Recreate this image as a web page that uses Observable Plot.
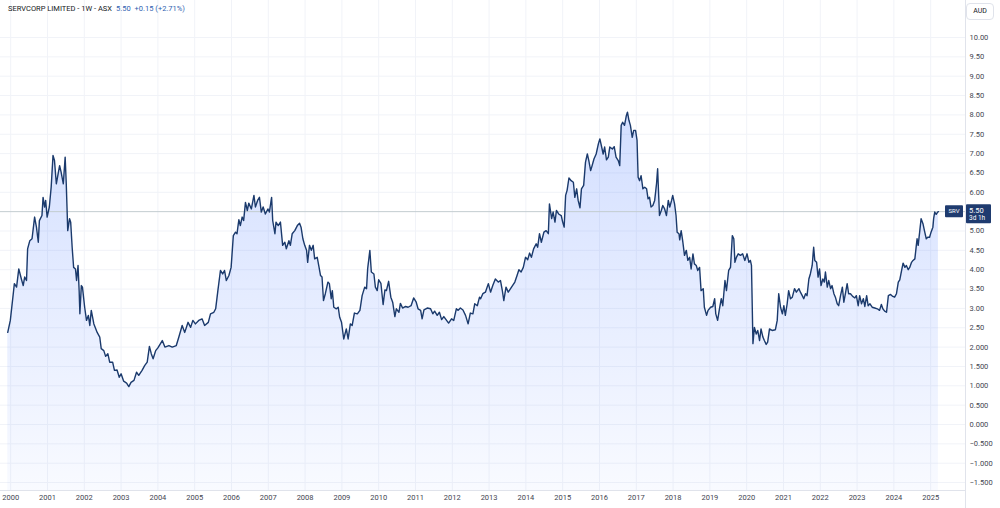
<!DOCTYPE html>
<html><head><meta charset="utf-8">
<script src="https://cdn.jsdelivr.net/npm/d3@7"></script>
<script src="https://cdn.jsdelivr.net/npm/@observablehq/plot@0.6"></script>
<style>
body{margin:0;background:#fff;font-family:Roboto,"Noto Sans",sans-serif;}
#wrap{position:relative;width:1000px;height:508px;overflow:hidden;background:#fff;}
#hdr{position:absolute;left:8px;top:4px;font-size:7.5px;color:#131722;white-space:nowrap;}
#hdr .q{color:#2f5fb0;margin-left:4px;}
#aud{position:absolute;left:966px;top:3px;width:26px;height:15px;border:1px solid #e0e3eb;border-radius:4px;background:#fff;font-size:7px;color:#131722;text-align:center;line-height:15px;}
</style></head><body>
<div id="wrap"><div id="chart"></div>
<div id="hdr">SERVCORP LIMITED - 1W - ASX<span class="q">5.50</span><span class="q">+0.15 (+2.71%)</span></div>
<div id="aud">AUD</div></div>
<script>
const dates = [1999.92,1999.99,2000.07,2000.10,2000.16,2000.22,2000.29,2000.34,2000.38,2000.43,2000.46,2000.52,2000.58,2000.65,2000.70,2000.75,2000.78,2000.85,2000.88,2000.92,2000.95,2000.99,
2001.05,2001.10,2001.15,2001.19,2001.24,2001.29,2001.33,2001.37,2001.43,2001.48,2001.51,2001.55,2001.60,2001.63,2001.67,2001.71,2001.76,2001.79,2001.83,2001.86,2001.88,2001.92,2001.95,
2002.01,2002.06,2002.11,2002.15,2002.19,2002.26,2002.35,2002.42,2002.46,2002.53,2002.58,2002.64,2002.69,2002.77,2002.82,2002.89,2002.95,
2003.00,2003.07,2003.15,2003.21,2003.27,2003.35,2003.42,2003.48,2003.57,2003.64,2003.71,2003.77,2003.82,2003.87,2003.94,
2004.00,2004.12,2004.19,2004.30,2004.39,2004.50,2004.57,2004.66,2004.73,2004.82,2004.89,2004.95,
2005.02,2005.11,2005.20,2005.27,2005.37,2005.43,2005.52,2005.57,2005.63,2005.70,2005.76,2005.81,2005.86,2005.93,2005.99,
2006.05,2006.11,2006.15,2006.20,2006.24,2006.29,2006.33,2006.38,2006.43,2006.47,2006.54,2006.61,2006.65,2006.71,2006.76,2006.81,2006.86,2006.92,2006.99,
2007.03,2007.09,2007.12,2007.18,2007.21,2007.27,2007.33,2007.39,2007.45,2007.49,2007.56,2007.60,2007.65,2007.72,2007.79,2007.85,2007.89,2007.94,2007.99,
2008.04,2008.07,2008.12,2008.17,2008.22,2008.26,2008.33,2008.37,2008.42,2008.46,2008.50,2008.55,2008.62,2008.66,2008.71,2008.74,2008.78,2008.85,2008.90,2008.94,2008.99,
2009.05,2009.12,2009.17,2009.23,2009.28,2009.34,2009.42,2009.49,2009.55,2009.62,2009.67,2009.70,2009.76,2009.80,2009.87,2009.91,2009.96,
2010.00,2010.06,2010.12,2010.17,2010.21,2010.27,2010.33,2010.38,2010.44,2010.48,2010.55,2010.59,2010.65,2010.73,2010.80,2010.88,2010.95,
2011.02,2011.07,2011.14,2011.18,2011.23,2011.32,2011.41,2011.47,2011.52,2011.59,2011.65,2011.71,2011.77,2011.83,2011.90,2011.98,
2012.04,2012.11,2012.16,2012.22,2012.29,2012.36,2012.43,2012.49,2012.56,2012.61,2012.68,2012.74,2012.77,2012.83,2012.90,2012.98,
2013.04,2013.10,2013.17,2013.25,2013.31,2013.36,2013.40,2013.46,2013.52,2013.61,2013.70,2013.76,2013.81,2013.87,2013.93,2013.99,
2014.05,2014.10,2014.15,2014.21,2014.28,2014.32,2014.37,2014.42,2014.49,2014.55,2014.61,2014.64,2014.70,2014.74,2014.79,2014.83,2014.89,2014.96,
2015.00,2015.04,2015.08,2015.12,2015.17,2015.23,2015.29,2015.33,2015.38,2015.42,2015.47,2015.51,2015.57,2015.62,2015.67,2015.71,2015.76,2015.80,2015.85,2015.91,2015.97,
2016.01,2016.05,2016.10,2016.14,2016.19,2016.24,2016.28,2016.35,2016.40,2016.45,2016.51,2016.55,2016.59,2016.63,2016.68,2016.73,2016.76,2016.80,2016.84,2016.89,2016.93,2016.98,
2017.02,2017.05,2017.09,2017.13,2017.18,2017.23,2017.28,2017.32,2017.36,2017.40,2017.45,2017.50,2017.55,2017.58,2017.61,2017.63,2017.68,2017.72,2017.77,2017.82,2017.87,2017.91,2017.96,2017.99,
2018.04,2018.08,2018.11,2018.16,2018.18,2018.22,2018.26,2018.31,2018.36,2018.40,2018.45,2018.49,2018.54,2018.58,2018.63,2018.67,2018.72,2018.76,2018.82,2018.85,2018.91,2018.95,
2019.02,2019.08,2019.13,2019.16,2019.21,2019.26,2019.31,2019.35,2019.41,2019.45,2019.51,2019.56,2019.61,2019.65,2019.68,2019.72,2019.77,2019.83,2019.89,2019.95,
2020.01,2020.06,2020.10,2020.13,2020.17,2020.21,2020.26,2020.30,2020.35,2020.39,2020.44,2020.48,2020.53,2020.57,2020.62,2020.69,2020.78,2020.83,2020.87,2020.92,2020.97,
2021.01,2021.05,2021.10,2021.14,2021.19,2021.24,2021.30,2021.35,2021.42,2021.46,2021.51,2021.55,2021.60,2021.64,2021.69,2021.73,2021.78,2021.82,2021.85,2021.90,2021.94,2021.98,
2022.02,2022.07,2022.11,2022.14,2022.19,2022.23,2022.28,2022.32,2022.37,2022.41,2022.46,2022.50,2022.55,2022.60,2022.64,2022.69,2022.73,2022.77,2022.82,2022.88,2022.94,2022.98,
2023.03,2023.07,2023.12,2023.17,2023.21,2023.26,2023.30,2023.35,2023.41,2023.48,2023.55,2023.61,2023.66,2023.70,2023.75,2023.80,2023.85,2023.91,2023.97,
2024.02,2024.07,2024.12,2024.16,2024.21,2024.25,2024.30,2024.34,2024.39,2024.43,2024.48,2024.52,2024.57,2024.61,2024.63,2024.66,2024.70,2024.74,2024.79,2024.83,2024.88,2024.92,2024.97,
2025.01,2025.06,2025.08,2025.11,2025.15,2025.19,2025.21];
const prices = [2.38,2.69,3.38,3.64,3.55,4.02,3.76,3.59,3.81,3.72,4.54,4.75,4.80,5.36,5.10,4.71,5.27,5.40,5.87,5.62,5.79,5.36,
5.62,6.13,6.95,6.82,6.22,6.48,6.69,6.52,6.22,6.91,6.22,5.01,5.32,5.23,4.58,4.06,4.02,3.72,4.11,3.46,2.86,3.59,3.55,
3.03,2.69,2.82,2.56,2.95,2.60,2.38,2.26,1.96,1.91,1.76,1.83,1.61,1.61,1.40,1.41,1.22,
1.31,1.12,1.07,0.98,1.09,1.14,1.35,1.27,1.40,1.52,1.61,2.02,1.83,1.70,1.91,
1.98,2.17,2.00,2.04,2.00,2.04,2.26,2.56,2.38,2.64,2.51,2.69,
2.60,2.69,2.73,2.56,2.64,2.86,2.90,2.99,3.46,3.98,3.89,3.98,3.72,3.85,4.06,
4.88,4.97,4.93,5.29,5.14,5.36,5.27,5.74,5.53,5.72,5.57,5.92,5.62,5.79,5.87,5.49,5.62,5.44,5.57,
5.49,5.87,5.27,4.93,5.23,5.14,5.23,4.63,4.71,4.54,4.75,4.63,4.93,5.01,5.14,5.20,5.10,4.80,4.63,
4.50,4.19,4.63,4.50,4.63,4.28,4.32,4.11,3.85,3.81,3.20,3.38,3.68,3.64,3.25,3.46,3.03,2.99,3.03,2.77,2.64,
2.21,2.47,2.21,2.60,2.56,2.88,2.86,2.95,3.33,3.55,3.51,4.02,4.50,3.94,3.89,3.55,3.46,
3.74,3.65,3.10,3.48,3.46,3.70,3.29,3.16,2.79,2.99,2.90,3.13,3.01,3.05,3.03,3.07,3.27,
3.16,2.99,2.95,2.73,2.96,3.01,2.99,2.86,2.93,2.82,2.90,2.71,2.79,2.71,2.62,2.73,
2.69,2.99,2.95,3.01,2.96,2.82,2.60,2.88,2.86,3.12,3.07,3.29,3.25,3.38,3.42,3.64,
3.42,3.59,3.76,3.68,3.72,3.46,3.20,3.55,3.42,3.55,3.68,3.85,4.00,3.94,4.06,4.32,
4.26,4.43,4.32,4.54,4.67,4.58,4.93,4.71,4.97,5.01,4.93,5.70,5.32,5.49,5.23,5.53,5.44,5.40,
5.23,5.10,5.92,6.05,6.37,6.30,6.26,5.87,6.09,5.79,5.60,6.09,6.18,6.78,6.99,6.82,6.56,6.69,6.86,6.99,7.25,
7.38,7.21,6.99,7.17,6.84,6.91,7.17,7.12,7.18,6.91,6.82,6.69,7.73,7.81,7.73,7.98,8.07,7.86,7.73,7.42,7.60,7.60,
7.35,6.39,6.30,6.43,6.09,6.13,6.09,5.83,5.87,5.62,5.66,5.79,6.22,6.61,5.87,5.40,5.53,5.66,5.57,5.40,5.79,5.62,5.79,5.92,
5.70,5.40,4.97,4.93,4.77,5.01,4.75,4.37,4.50,4.24,4.32,4.02,4.41,4.15,4.11,3.98,4.06,3.46,3.51,3.03,2.82,2.95,
3.03,3.05,3.25,2.86,2.69,2.99,3.25,3.07,3.72,3.46,3.98,4.06,4.88,4.80,4.19,4.32,4.41,4.37,4.41,4.24,
4.41,4.19,4.24,4.11,2.09,2.51,2.34,2.43,2.17,2.47,2.26,2.17,2.07,2.13,2.47,2.43,2.45,2.69,3.38,3.03,2.86,
3.07,2.82,3.12,3.46,3.25,3.29,3.51,3.42,3.51,3.42,3.33,3.25,3.38,3.33,3.76,3.89,4.11,4.58,4.24,4.19,3.81,4.02,
3.59,3.76,3.68,3.94,3.55,3.72,3.51,3.59,3.38,3.29,3.12,3.07,3.33,3.55,3.16,3.42,3.64,3.38,3.38,3.31,3.27,3.33,
3.07,3.33,3.12,3.25,3.05,3.33,3.07,3.12,3.03,3.01,2.99,2.95,3.10,2.99,2.93,2.90,3.33,3.36,3.31,
3.29,3.38,3.68,3.74,3.98,4.17,4.06,4.11,4.00,4.06,4.19,4.24,4.28,4.63,4.80,4.63,4.97,5.32,5.19,5.01,4.80,4.84,4.84,
4.97,5.10,5.32,5.49,5.43,5.49,5.50];
const yearTicks = [2000,2001,2002,2003,2004,2005,2006,2007,2008,2009,2010,2011,2012,2013,2014,2015,2016,2017,2018,2019,2020,2021,2022,2023,2024,2025];
const yTickValues = [-1.5,-1,-0.5,0,0.5,1,1.5,2,2.5,3,3.5,4,4.5,5,5.5,6,6.5,7,7.5,8,8.5,9,9.5,10];
const yTickLabels = ["\u22121.500","\u22121.000","\u22120.500","0.000","0.500","1.000","1.500","2.000","2.50","3.00","3.50","4.00","4.50","5.00","5.50","6.00","6.50","7.00","7.50","8.00","8.50","9.00","9.50","10.00"];
const lastPrice = 5.50;
const symbol = "SRV";
const countdown = "3d 1h";

const data = dates.map((t, i) => ({t, v: prices[i]}));
// tick labels hidden behind the last-price badge are not drawn
const shownTicks = yTickValues.map((v, i) => ({v, label: yTickLabels[i]})).filter(d => d.v !== lastPrice);
const X0 = 1999.723, X1 = 2025.946, Y0 = -1.705, Y1 = 10.956;
const font = "Roboto, 'Noto Sans', sans-serif";

const plot = Plot.plot({
  width: 1000, height: 508,
  marginTop: 0, marginLeft: 0, marginRight: 35, marginBottom: 18,
  x: {domain: [X0, X1], axis: null},
  y: {domain: [Y0, Y1], axis: null},
  style: {background: "transparent", fontFamily: font, overflow: "visible"},
  marks: [
    Plot.ruleX(yearTicks, {stroke: "#f1f3f8"}),
    Plot.ruleY(yTickValues.filter(d => d !== lastPrice), {stroke: "#f1f3f8"}),
    Plot.areaY(data, {x: "t", y1: Y0, y2: "v", fill: "url(#srvGrad)"}),
    Plot.ruleY([lastPrice], {stroke: "#c3ccd0", strokeWidth: 1}),
    Plot.line(data, {x: "t", y: "v", stroke: "#1b3a6c", strokeWidth: 1.4}),
    Plot.text(shownTicks, {y: "v", text: "label", frameAnchor: "right", textAnchor: "start", dx: 4, fontSize: 7.5, fill: "#434651"}),
    Plot.text(yearTicks, {x: d => d, text: d => String(d), frameAnchor: "bottom", dy: 9, fontSize: 7.5, fill: "#434651"})
  ]
});
document.getElementById("chart").appendChild(plot);

const svg = d3.select(plot);
const defs = svg.insert("defs", ":first-child");
const g = defs.append("linearGradient").attr("id", "srvGrad").attr("gradientUnits", "userSpaceOnUse")
  .attr("x1", 0).attr("y1", 0).attr("x2", 0).attr("y2", 490);
g.append("stop").attr("offset", 0).attr("stop-color", "#2962ff").attr("stop-opacity", 0.26);
g.append("stop").attr("offset", 1).attr("stop-color", "#2962ff").attr("stop-opacity", 0.03);

const ys = plot.scale("y");
const py = ys.apply(lastPrice);
// separators
svg.append("line").attr("x1", 965.5).attr("x2", 965.5).attr("y1", 0).attr("y2", 508).attr("stroke", "#e0e3eb");
svg.append("line").attr("x1", 0).attr("x2", 965.5).attr("y1", 490.5).attr("y2", 490.5).attr("stroke", "#e0e3eb");
// symbol badge
const badges = svg.append("g").attr("text-anchor", "start").attr("font-family", font).attr("fill", "#fff");
badges.append("rect").attr("x", 945).attr("y", py - 6).attr("width", 18).attr("height", 12).attr("rx", 1).attr("fill", "#1f3b6f");
badges.append("text").attr("x", 954).attr("y", py).attr("dy", "0.35em").attr("text-anchor", "middle")
  .attr("font-size", 6).text(symbol);
// last price badge
badges.append("rect").attr("x", 966).attr("y", py - 7).attr("width", 25).attr("height", 19).attr("rx", 1).attr("fill", "#1f3b6f");
badges.append("text").attr("x", 969).attr("y", py - 1).attr("dy", "0.35em").attr("text-anchor", "start")
  .attr("font-size", 7.5).text(lastPrice.toFixed(2));
badges.append("text").attr("x", 969).attr("y", py + 7).attr("dy", "0.35em").attr("text-anchor", "start")
  .attr("font-size", 6.5).text(countdown);
</script>
</body></html>
